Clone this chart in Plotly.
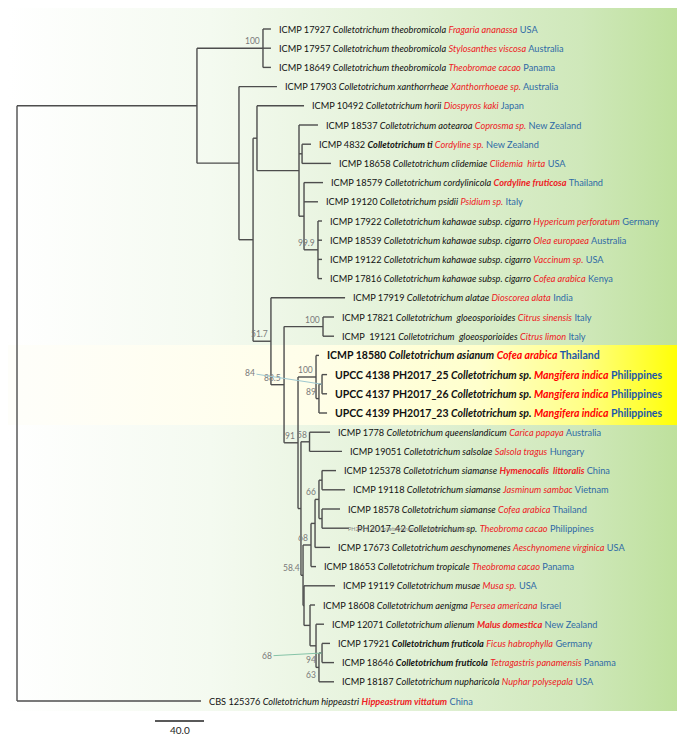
import plotly.graph_objects as go

# ---------------- data ----------------
leaf_ids = ["ICMP 17927", "ICMP 17957", "ICMP 18649", "ICMP 17903", "ICMP 10492", "ICMP 18537",
            "ICMP 4832", "ICMP 18658", "ICMP 18579", "ICMP 19120", "ICMP 17922", "ICMP 18539",
            "ICMP 19122", "ICMP 17816", "ICMP 17919", "ICMP 17821", "ICMP  19121", "ICMP 18580",
            "UPCC 4138 PH2017_25", "UPCC 4137 PH2017_26", "UPCC 4139 PH2017_23", "ICMP 1778",
            "ICMP 19051", "ICMP 125378", "ICMP 19118", "ICMP 18578", "PH2017_42", "ICMP 17673",
            "ICMP 18653", "ICMP 19119", "ICMP 18608", "ICMP 12071", "ICMP 17921", "ICMP 18646",
            "ICMP 18187", "CBS 125376"]
leaf_species = ["Colletotrichum theobromicola", "Colletotrichum theobromicola", "Colletotrichum theobromicola",
                "Colletotrichum xanthorrheae", "Colletotrichum horii", "Colletotrichum aotearoa",
                "Colletotrichum ti", "Colletotrichum clidemiae", "Colletotrichum cordylinicola",
                "Colletotrichum psidii", "Colletotrichum kahawae subsp. cigarro",
                "Colletotrichum kahawae subsp. cigarro", "Colletotrichum kahawae subsp. cigarro",
                "Colletotrichum kahawae subsp. cigarro", "Colletotrichum alatae",
                "Colletotrichum  gloeosporioides", "Colletotrichum  gloeosporioides",
                "Colletotrichum asianum", "Colletotrichum sp.", "Colletotrichum sp.", "Colletotrichum sp.",
                "Colletotrichum queenslandicum", "Colletotrichum salsolae", "Colletotrichum siamanse",
                "Colletotrichum siamanse", "Colletotrichum siamanse", "Colletotrichum sp.",
                "Colletotrichum aeschynomenes", "Colletotrichum tropicale", "Colletotrichum musae",
                "Colletotrichum aenigma", "Colletotrichum alienum", "Colletotrichum fruticola",
                "Colletotrichum fruticola", "Colletotrichum nupharicola", "Colletotrichum hippeastri"]
leaf_hosts = ["Fragaria ananassa", "Stylosanthes viscosa", "Theobromae cacao", "Xanthorrhoeae sp.",
              "Diospyros kaki", "Coprosma sp.", "Cordyline sp.", "Clidemia  hirta", "Cordyline fruticosa",
              "Psidium sp.", "Hypericum perforatum", "Olea europaea", "Vaccinum sp.", "Cofea arabica",
              "Dioscorea alata", "Citrus sinensis", "Citrus limon", "Cofea arabica", "Mangifera indica",
              "Mangifera indica", "Mangifera indica", "Carica papaya", "Salsola tragus",
              "Hymenocalis  littoralis", "Jasminum sambac", "Cofea arabica", "Theobroma cacao",
              "Aeschynomene virginica", "Theobroma cacao", "Musa sp.", "Persea americana",
              "Malus domestica", "Ficus habrophylla", "Tetragastris panamensis", "Nuphar polysepala",
              "Hippeastrum vittatum"]
leaf_countries = ["USA", "Australia", "Panama", "Australia", "Japan", "New Zealand", "New Zealand", "USA",
                  "Thailand", "Italy", "Germany", "Australia", "USA", "Kenya", "India", "Italy", "Italy",
                  "Thailand", "Philippines", "Philippines", "Philippines", "Australia", "Hungary", "China",
                  "Vietnam", "Thailand", "Philippines", "USA", "Panama", "USA", "Israel", "New Zealand",
                  "Germany", "Panama", "USA", "China"]
leaf_parent = ["Th", "Th", "Th", "B", "D", "E", "E1", "E1", "E2", "E2", "Kh", "Kh", "Kh", "Kh", "F",
               "Gl", "Gl", "I", "K", "K", "J", "N1", "N1", "Pa", "Pa", "Pb", "Pb", "P", "Q", "V", "U",
               "R", "T", "T", "S", "root"]
# distance from the root (same units as the 40.0 scale bar)
leaf_depth = [207.3, 207.3, 207.3, 212.2, 234.3, 245.7, 240.0, 256.3, 249.8, 245.7, 249.0, 249.0,
              249.0, 249.0, 267.8, 258.8, 258.8, 246.5, 253.1, 253.1, 253.1, 255.5, 265.3, 260.4,
              267.8, 263.7, 271.0, 255.5, 244.1, 259.6, 243.3, 250.6, 255.5, 258.8, 258.8, 150.2]

node_names = ["root", "A", "Th", "B", "C", "D", "E", "E1", "E2", "Kh", "F", "G", "Gl", "H", "I", "J",
              "K", "M", "N1", "X", "Q", "P", "S66", "Pa", "Pb", "V", "U", "R", "S", "T"]
node_parent = [None, "root", "A", "A", "B", "C", "D", "E", "E", "E2", "C", "F", "G", "G", "H", "I",
               "J", "H", "M", "M", "X", "Q", "P", "S66", "S66", "X", "V", "U", "R", "S"]
node_depth = [0.0, 146.9, 200.8, 181.2, 192.7, 195.9, 230.2, 232.7, 234.3, 245.7, 207.3, 218.0, 249.8,
              229.4, 244.1, 246.5, 249.0, 231.8, 238.8, 233.5, 240.0, 243.3, 246.5, 249.0, 249.0,
              234.3, 239.2, 244.1, 246.5, 249.0]

support_nodes = ["Th", "Kh", "F", "G", "Gl", "H", "I", "J", "N1", "S66", "Q", "X", "S"]
support_values = ["100", "99.9", "51.7", "88.5", "100", "91", "100", "89", "58", "66", "68", "58.4", "94"]
support_below_nodes = ["S"]
support_below_values = ["63"]
callout_nodes = ["K", "T"]
callout_values = ["84", "68"]

scale_length = 40.0
scale_label = "40.0"

# ---------------- styling ----------------
FONT = "Lato, sans-serif"
BRANCH_COLOR = "#4d4d4d"
RED = "#ee2024"
BLUE = "#2f6aa6"
BOLD_ROWS = {17, 18, 19, 20}
BOLD_SPECIES = {6, 32, 33}
BOLD_HOSTS = {8, 23, 31, 35}

# ---------------- tree layout ----------------
n_leaves = len(leaf_ids)
xpos = {}
ypos = {}
children = {n: [] for n in node_names}
for i in range(n_leaves):
    key = ("leaf", i)
    xpos[key] = leaf_depth[i]
    ypos[key] = float(i)
    children[leaf_parent[i]].append(key)
for n, p, d in zip(node_names, node_parent, node_depth):
    xpos[n] = d
    if p is not None:
        children[p].append(n)


def place(n):
    if n in ypos:
        return ypos[n]
    ys = [place(c) for c in children[n]]
    ypos[n] = (min(ys) + max(ys)) / 2.0
    return ypos[n]


place("root")

bx, by = [], []
for n in node_names:
    ys = [ypos[c] for c in children[n]]
    bx += [xpos[n], xpos[n], None]
    by += [min(ys), max(ys), None]
    for c in children[n]:
        bx += [xpos[n], xpos[c], None]
        by += [ypos[c], ypos[c], None]

# The page has an 8px body margin: the figure occupies screen px 8..685 / 8..735.
# axis mapping: 1 unit = 1.225 px, root at screen px 17; rows start at screen px 29, 19.2 px apart
PAGE = 8
W, H = 685 - PAGE, 735 - PAGE
XR = [(PAGE - 17) / 1.225, (685 - 17) / 1.225]
YR = [(735 - 29) / 19.2, (PAGE - 29) / 19.2]


def px_x(p):
    return (p - 17) / 1.225


def px_y(p):
    return (p - 29) / 19.2


fig = go.Figure()

# background panels with horizontal gradients
gx0, gx1 = px_x(PAGE), px_x(682)
gy0, gy1 = px_y(3), px_y(711)
fig.add_trace(go.Scatter(
    x=[gx0, gx1, gx1, gx0, gx0], y=[gy0, gy0, gy1, gy1, gy0], mode="lines",
    line=dict(width=0), fill="toself",
    fillgradient=dict(type="horizontal",
                      colorscale=[[0, "#ffffff"], [0.3, "#f4faf0"], [0.6, "#e2f1d6"],
                                  [0.85, "#cfe8ba"], [1, "#bde09b"]]),
    hoverinfo="skip", showlegend=False))
yy0, yy1 = px_y(345), px_y(425)
fig.add_trace(go.Scatter(
    x=[gx0, gx1, gx1, gx0, gx0], y=[yy0, yy0, yy1, yy1, yy0], mode="lines",
    line=dict(width=0), fill="toself",
    fillgradient=dict(type="horizontal",
                      colorscale=[[0, "#fefefa"], [0.45, "#fffee9"], [0.7, "#ffffcc"],
                                  [0.85, "#ffff88"], [1, "#ffff00"]]),
    hoverinfo="skip", showlegend=False))

# branches
fig.add_trace(go.Scatter(x=bx, y=by, mode="lines",
                         line=dict(color=BRANCH_COLOR, width=1.4),
                         hoverinfo="skip", showlegend=False))

annotations = []
for i in range(n_leaves):
    sp = leaf_species[i]
    host = leaf_hosts[i]
    if i in BOLD_SPECIES:
        sp_txt = "<b><i>%s</i></b>" % sp
    else:
        sp_txt = "<i>%s</i>" % sp
    if i in BOLD_HOSTS:
        host_txt = "<b><i>%s</i></b>" % host
    else:
        host_txt = "<i>%s</i>" % host
    if i in BOLD_ROWS:
        txt = ("<b>%s <i>%s</i> <span style='color:#ff0000'><i>%s</i></span> "
               "<span style='color:#1d58a8'>%s</span></b>") % (leaf_ids[i], sp, host, leaf_countries[i])
        size = 10.5
    else:
        txt = "%s %s <span style='color:%s'>%s</span> <span style='color:%s'>%s</span>" % (
            leaf_ids[i], sp_txt, RED, host_txt, BLUE, leaf_countries[i])
        size = 9.2
    annotations.append(dict(x=leaf_depth[i], y=i, text=txt, showarrow=False, xanchor="left",
                            yanchor="middle", xshift=6, font=dict(family=FONT, size=size, color="#111111")))

# faint underlying label
annotations.append(dict(x=leaf_depth[26], y=26, text="PH2017_42_Colletotrichum_sp._Theobroma_cacao",
                        showarrow=False, xanchor="left", yanchor="middle", xshift=-3, yshift=-1,
                        font=dict(family=FONT, size=5.5, color="#8a8a8a")))

for n, v in zip(support_nodes, support_values):
    annotations.append(dict(x=xpos[n], y=ypos[n], text=v, showarrow=False, xanchor="right",
                            yanchor="bottom", xshift=-1, yshift=0,
                            font=dict(family=FONT, size=8.5, color="#7a7a7a")))
for n, v in zip(support_below_nodes, support_below_values):
    annotations.append(dict(x=xpos[n], y=ypos[n], text=v, showarrow=False, xanchor="right",
                            yanchor="top", xshift=-1, yshift=-1,
                            font=dict(family=FONT, size=8.5, color="#7a7a7a")))
callout_offsets = [(-72, -11), (-55, 3)]
callout_colors = ["#9ec8d0", "#86c4a8"]
for (n, v), (ax, ay), col in zip(zip(callout_nodes, callout_values), callout_offsets, callout_colors):
    annotations.append(dict(x=xpos[n], y=ypos[n], text=v, showarrow=True, arrowhead=0,
                            arrowcolor=col, arrowwidth=1, ax=ax, ay=ay, standoff=0,
                            font=dict(family=FONT, size=8.5, color="#7a7a7a")))

# scale bar
sb_x0 = px_x(155)
sb_y = px_y(721)
fig.add_trace(go.Scatter(x=[sb_x0, sb_x0 + scale_length], y=[sb_y, sb_y], mode="lines",
                         line=dict(color="#222222", width=1.5), hoverinfo="skip", showlegend=False))
annotations.append(dict(x=sb_x0 + scale_length / 2, y=px_y(730), text=scale_label, showarrow=False,
                        xanchor="center", yanchor="middle",
                        font=dict(family=FONT, size=10, color="#222222")))

fig.update_layout(
    width=W, height=H, margin=dict(l=0, r=0, t=0, b=0),
    paper_bgcolor="white", plot_bgcolor="white",
    xaxis=dict(range=XR, visible=False, fixedrange=True),
    yaxis=dict(range=YR, visible=False, fixedrange=True),
    annotations=annotations, showlegend=False,
)

fig.write_html("out.html")
